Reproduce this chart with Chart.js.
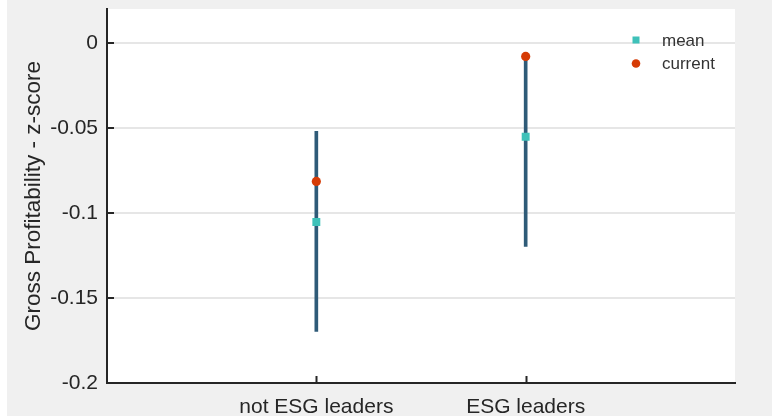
<!DOCTYPE html>
<html>
<head>
<meta charset="utf-8">
<script src="https://cdn.jsdelivr.net/npm/chart.js@4"></script>
<style>
  html, body { margin: 0; padding: 0; background: #fff; }
  #wrap { width: 772px; height: 417px; }
</style>
</head>
<body>
<div id="wrap"><canvas id="graphique" width="772" height="417"></canvas></div>
<script>
// données
const xLabels = ['', 'not ESG leaders', 'ESG leaders', ''];
const rangeLow = [null, -0.1696, -0.1197, null];
const rangeHigh = [null, -0.0520, -0.0079, null];
const meanVals = [null, -0.1053, -0.0551, null];
const currentVals = [null, -0.0814, -0.0079, null];
const yTicks = [-0.2, -0.15, -0.1, -0.05, 0];
const yTickLabels = ['-0.2', '-0.15', '-0.1', '-0.05', '0'];
const legendLabels = ['mean', 'current'];

const FONT = "'Liberation Sans', Arial, Helvetica, sans-serif";
const AXIS = '#262626';

// fond gris + zone blanche du graphique
const fondPlugin = {
  id: 'fond',
  beforeDraw(chart) {
    const c = chart.ctx, a = chart.chartArea;
    c.save();
    c.fillStyle = '#fff';
    c.fillRect(0, 0, chart.width, chart.height);
    c.fillStyle = '#f0f0f0';
    c.fillRect(7, 0, chart.width - 7, chart.height - 1);
    c.fillStyle = '#fff';
    c.fillRect(a.left, a.top, a.right - a.left, a.bottom - a.top);
    c.restore();
  },
  // petites graduations vers l'intérieur + légende
  afterDraw(chart) {
    const c = chart.ctx, a = chart.chartArea;
    const x = chart.scales.x, y = chart.scales.y;
    c.save();
    c.strokeStyle = AXIS;
    c.lineWidth = 2;
    c.beginPath();
    yTicks.forEach(v => {
      const py = Math.round(y.getPixelForValue(v)) ;
      c.moveTo(a.left, py); c.lineTo(a.left + 7, py);
    });
    xLabels.forEach((l, i) => {
      if (!l) return;
      const px = Math.round(x.getPixelForValue(i)) + 0.5;
      c.moveTo(px, a.bottom); c.lineTo(px, a.bottom - 7);
    });
    c.stroke();

    // légende
    const ds = chart.data.datasets;
    c.font = '17px ' + FONT;
    c.textBaseline = 'middle';
    c.fillStyle = '#333';
    c.fillText(legendLabels[0], 662, 41);
    c.fillText(legendLabels[1], 662, 64);
    c.fillStyle = ds[1].pointBackgroundColor;
    c.fillRect(632.5, 36.5, 7, 7);
    c.fillStyle = ds[2].pointBackgroundColor;
    c.beginPath();
    c.arc(636, 63.5, 4.3, 0, Math.PI * 2);
    c.fill();
    c.restore();
  }
};

const ctx = document.getElementById('graphique').getContext('2d');
const chart = new Chart(ctx, {
  data: {
    labels: xLabels,
    datasets: [
      {
        type: 'bar',
        label: 'range',
        data: rangeLow.map((v, i) => v === null ? null : [v, rangeHigh[i]]),
        backgroundColor: '#2f5b78',
        barThickness: 3,
        borderWidth: 0,
        order: 3
      },
      {
        type: 'line',
        label: legendLabels[0],
        data: meanVals,
        showLine: false,
        pointStyle: 'rect',
        pointRadius: 5.6,
        pointBorderWidth: 0,
        pointBackgroundColor: '#3ec1b9',
        order: 2
      },
      {
        type: 'line',
        label: legendLabels[1],
        data: currentVals,
        showLine: false,
        pointStyle: 'circle',
        pointRadius: 4.6,
        pointBorderWidth: 0,
        pointBackgroundColor: '#d63b05',
        order: 1
      }
    ]
  },
  plugins: [fondPlugin],
  options: {
    responsive: false,
    animation: false,
    layout: { padding: { top: 9, right: 37, left: 0, bottom: 0 } },
    plugins: { legend: { display: false }, tooltip: { enabled: false } },
    scales: {
      x: {
        type: 'category',
        offset: false,
        grid: { display: false, drawTicks: false },
        border: { display: true, color: AXIS, width: 2 },
        ticks: {
          autoSkip: false, maxRotation: 0, padding: 12,
          color: AXIS, font: { family: FONT, size: 21 }
        },
        afterFit(s) { s.height = 34; s.paddingLeft = 0; s.paddingRight = 0; }
      },
      y: {
        type: 'linear',
        min: -0.2,
        max: 0.02,
        afterBuildTicks(s) { s.ticks = yTicks.map(v => ({ value: v })); },
        grid: { color: '#e6e6e6', lineWidth: 2, drawTicks: false },
        border: { display: true, color: AXIS, width: 2 },
        ticks: {
          padding: 9, color: AXIS, font: { family: FONT, size: 21 },
          callback: (v) => yTickLabels[yTicks.findIndex(t => Math.abs(t - v) < 1e-9)]
        },
        title: {
          display: true,
          text: 'Gross Profitability - z-score',
          color: AXIS,
          font: { family: FONT, size: 22.5 },
          padding: { top: 20, bottom: 0 }
        },
        afterFit(s) { s.width = 107; s.paddingTop = 0; s.paddingBottom = 0; }
      }
    }
  }
});
</script>
</body>
</html>
